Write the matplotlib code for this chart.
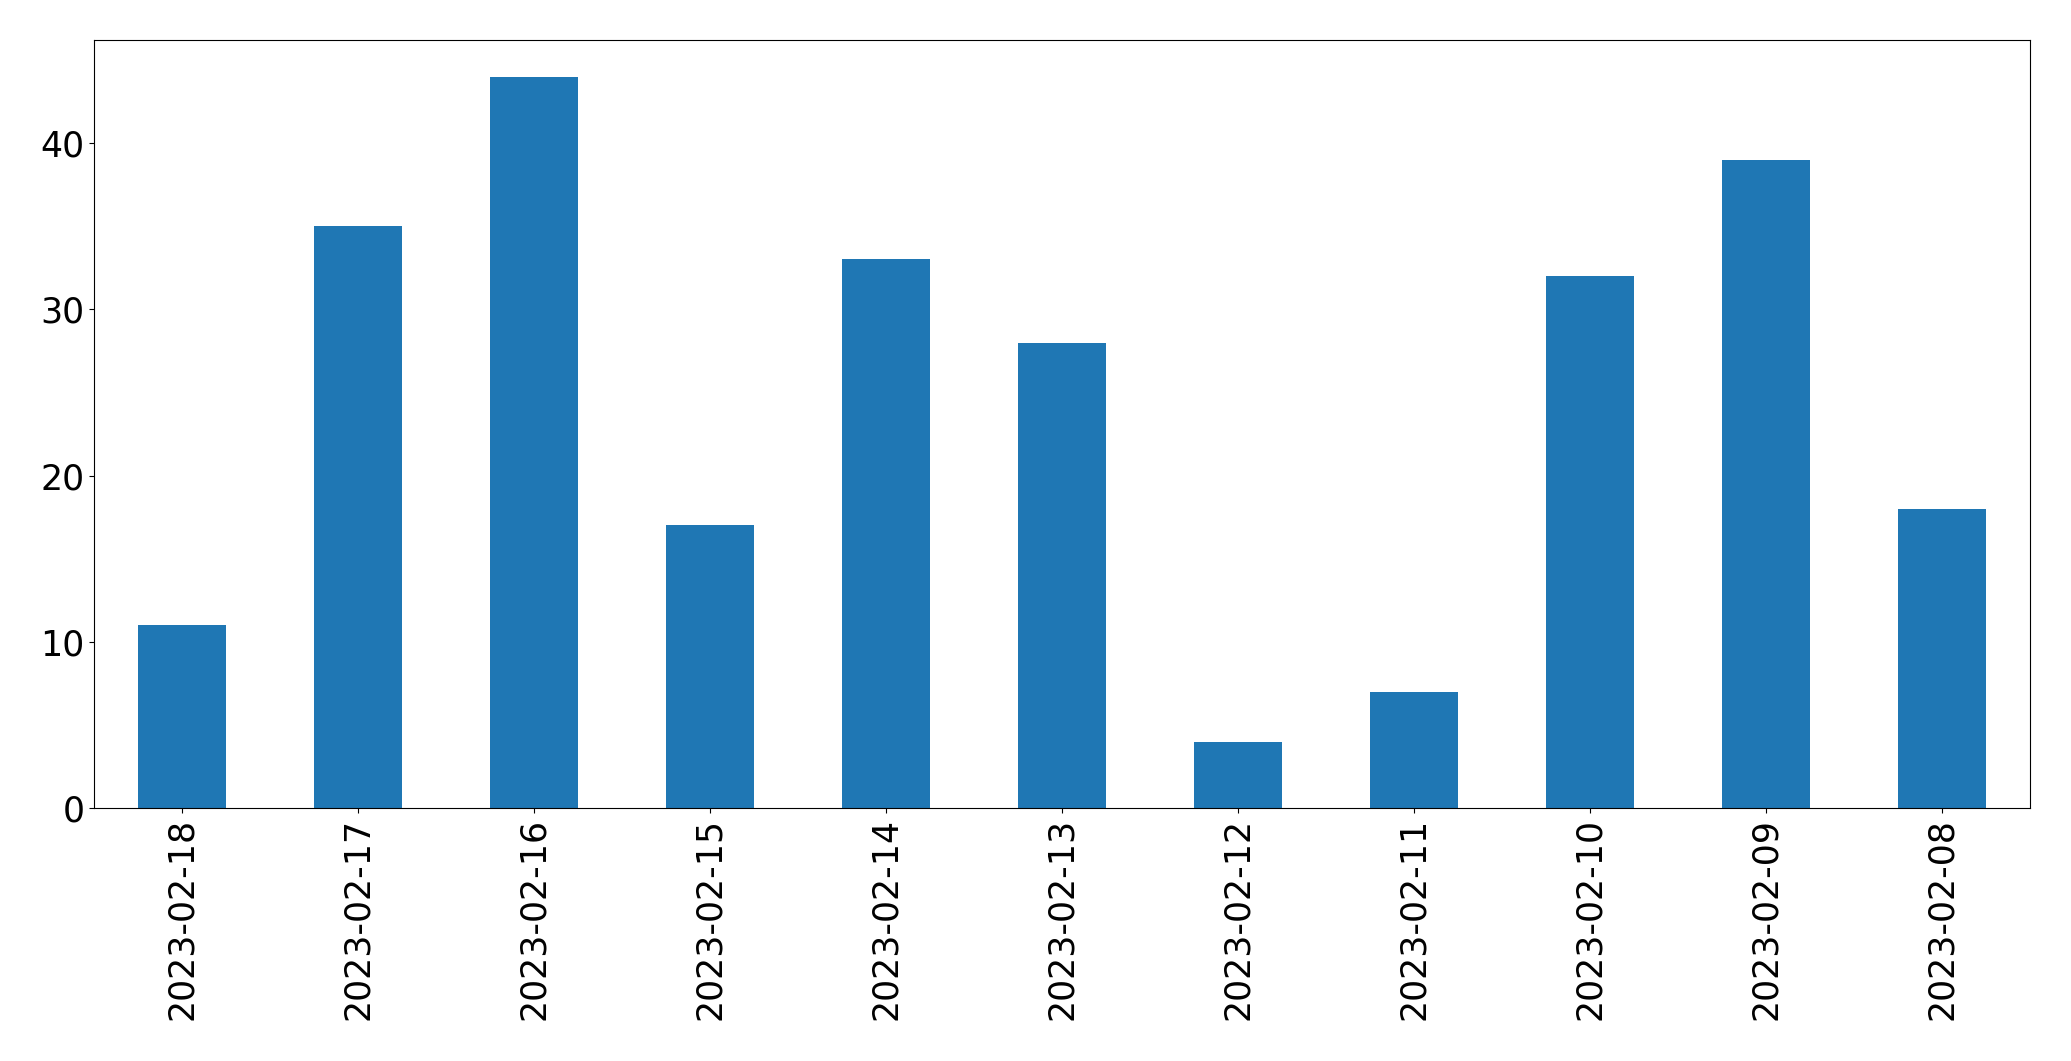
import pandas as pd
import matplotlib.pyplot as plt

dates = ['2023-02-18', '2023-02-17', '2023-02-16', '2023-02-15', '2023-02-14', '2023-02-13',
         '2023-02-12', '2023-02-11', '2023-02-10', '2023-02-09', '2023-02-08']
counts = [11, 35, 44, 17, 33, 28, 4, 7, 32, 39, 18]

s = pd.Series(counts, index=dates)

fig, ax = plt.subplots(figsize=(20.71, 10.61), dpi=100)
s.plot(kind='bar', ax=ax, color='#1f77b4')
ax.tick_params(labelsize=25)
fig.subplots_adjust(left=94/2071, right=2030/2071, top=1 - 40/1061, bottom=1 - 808/1061)
fig.savefig('out.png', dpi=100)
